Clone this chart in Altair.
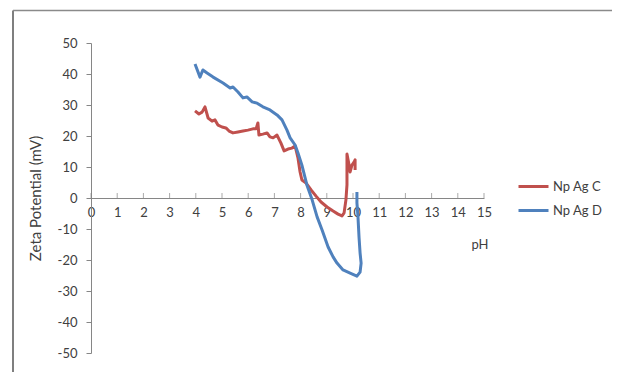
import altair as alt
import pandas as pd

# Np Ag C (red)
ph_c = [3.97, 4.12, 4.24, 4.35, 4.47, 4.62, 4.73, 4.85, 5.00, 5.15, 5.27, 5.42, 5.61, 5.80, 5.99,
        6.18, 6.30, 6.37, 6.41, 6.56, 6.72, 6.83, 6.95, 7.10, 7.25, 7.37, 7.52, 7.67, 7.79, 7.90,
        7.98, 8.05, 8.21, 8.40, 8.59, 8.78, 9.01, 9.24, 9.43, 9.58, 9.66, 9.73, 9.77, 9.77, 9.85,
        9.89, 9.96, 10.04, 10.08, 10.08]
zp_c = [28.1, 27.1, 27.7, 29.4, 25.8, 24.8, 25.2, 23.5, 22.9, 22.6, 21.6, 21.0, 21.3, 21.6, 21.9,
        22.3, 22.3, 24.2, 20.3, 20.6, 21.0, 19.7, 19.4, 20.3, 17.7, 15.2, 15.8, 16.1, 16.8, 12.9,
        8.4, 5.8, 4.8, 2.6, 0.6, -1.3, -2.9, -4.2, -5.2, -5.8, -4.8, -0.6, 4.2, 14.2, 10.6,
        8.4, 10.6, 11.6, 12.3, 9.0]

# Np Ag D (blue)
ph_d = [3.97, 4.16, 4.27, 4.43, 4.66, 5.04, 5.31, 5.42, 5.61, 5.80, 5.95, 6.15, 6.34, 6.56, 6.83,
        7.10, 7.29, 7.48, 7.60, 7.79, 7.90, 8.05, 8.24, 8.44, 8.63, 8.82, 9.05, 9.24, 9.39, 9.62,
        9.89, 10.15, 10.27, 10.31, 10.27, 10.23, 10.19, 10.15, 10.15]
zp_d = [43.2, 39.0, 41.3, 40.3, 39.0, 37.1, 35.5, 35.8, 34.2, 32.3, 32.6, 31.0, 30.6, 29.4, 28.4,
        26.8, 25.2, 21.9, 19.4, 17.1, 14.5, 10.6, 4.2, -0.6, -6.1, -10.3, -15.8, -19.0, -21.0, -23.2,
        -24.2, -25.2, -23.9, -21.0, -17.7, -12.6, -6.1, -1.6, 1.9]

series_names = ["Np Ag C", "Np Ag D"]
series_colors = ["#C0504D", "#4F81BD"]
x_ticks = list(range(0, 16))
y_ticks = list(range(-50, 51, 10))

rows = []
for i, (p, z) in enumerate(zip(ph_c, zp_c)):
    rows.append({"pH": p, "zeta": z, "series": series_names[0], "idx": i})
for i, (p, z) in enumerate(zip(ph_d, zp_d)):
    rows.append({"pH": p, "zeta": z, "series": series_names[1], "idx": i})
df = pd.DataFrame(rows)

FONT = "Lato"
TXT = "#404040"
AX = "#868686"

W, H = 393, 310

xscale = alt.Scale(domain=[0, 15], nice=False, zero=False)
yscale = alt.Scale(domain=[-50, 50], nice=False)

x_axis = alt.Axis(values=x_ticks, offset=-155, ticks=False, grid=False,
                  domainColor=AX, domainWidth=1, labelColor=TXT, labelFont=FONT,
                  labelFontSize=13, labelPadding=8, labelOverlap=False,
                  labelExpr="toString(datum.value)",
                  title="pH", titleFont=FONT,
                  titleFontSize=13, titleFontWeight="normal", titleColor=TXT,
                  titleX=W + 4, titleY=50, titleAlign="right",
                  titleBaseline="alphabetic", labelFlush=False)
y_axis = alt.Axis(values=y_ticks, grid=False, domainColor=AX, tickColor=AX,
                  tickSize=5, labelColor=TXT, labelFont=FONT, labelFontSize=13,
                  labelPadding=9, labelOverlap=False,
                  labelExpr="toString(datum.value)",
                  title="Zeta Potential (mV)", titleFont=FONT,
                  titleFontSize=15, titleFontWeight="normal", titleColor=TXT,
                  titleX=-56, titleY=H / 2, titleAngle=-90, titleBaseline="middle",
                  titleAlign="center", labelFlush=False)

lines = alt.Chart(df).mark_line(strokeWidth=3, strokeJoin="round").encode(
    x=alt.X("pH:Q", scale=xscale, axis=x_axis),
    y=alt.Y("zeta:Q", scale=yscale, axis=y_axis),
    color=alt.Color("series:N", scale=alt.Scale(domain=series_names, range=series_colors),
                    legend=alt.Legend(title=None, orient="none", legendX=426, legendY=127,
                                      symbolType="stroke", symbolSize=900, symbolStrokeWidth=3,
                                      labelFont=FONT, labelFontSize=13, labelColor=TXT,
                                      labelOffset=3, rowPadding=0)),
    order="idx:Q",
)

tick_df = pd.DataFrame({"t": x_ticks, "z": [0] * len(x_ticks)})
xt = alt.Chart(tick_df).mark_tick(color=AX, size=5, thickness=1, yOffset=-2.5).encode(
    x=alt.X("t:Q", scale=xscale, axis=x_axis),
    y=alt.Y("z:Q", scale=yscale, axis=y_axis),
)

one = alt.Data(values=[{"a": 1}])
border_left = alt.Chart(one).mark_rule(color="#555555", strokeWidth=1.5).encode(
    x=alt.value(-78), y=alt.value(-32.5), y2=alt.value(H + 30))
border_top = alt.Chart(one).mark_rule(color="#8a8a8a", strokeWidth=1.5).encode(
    x=alt.value(-78), x2=alt.value(W + 140), y=alt.value(-32.5))

chart = alt.layer(lines, xt, border_left, border_top).properties(
    width=W, height=H, background="white",
    padding={"left": 83, "top": 35, "right": 128, "bottom": 19},
    autosize=alt.AutoSizeParams(type="none"),
).configure_view(strokeWidth=0, stroke=None).configure_axis(labelOverlap=False)

chart.save("out.html", embed_options={"renderer": "svg", "actions": False})
